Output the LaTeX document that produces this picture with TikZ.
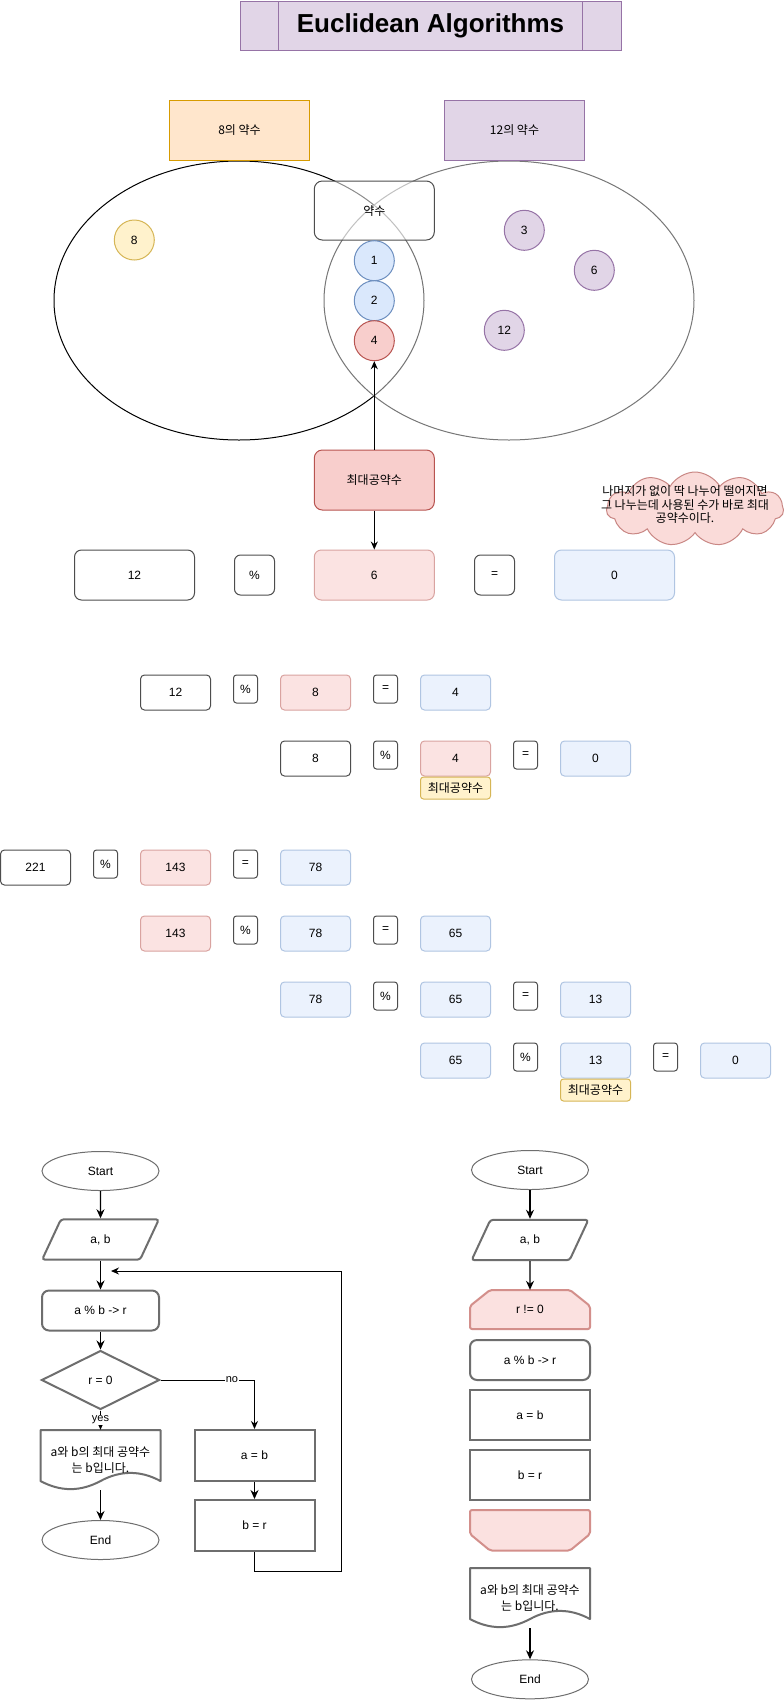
\documentclass[tikz,border=0pt]{standalone}
\usepackage{fontspec}
\setmainfont{Liberation Sans}
\newfontfamily\kr{Noto Sans CJK KR}
\usetikzlibrary{shapes.geometric,shapes.symbols,arrows.meta}
\definecolor{ttlfill}{HTML}{E1D5E7}
\definecolor{ttldraw}{HTML}{9673A6}
\definecolor{orfill}{HTML}{FFE6CC}
\definecolor{ordraw}{HTML}{D79B00}
\definecolor{yefill}{HTML}{FFF2CC}
\definecolor{yedraw}{HTML}{D6B656}
\definecolor{blfill}{HTML}{DAE8FC}
\definecolor{bldraw}{HTML}{6C8EBF}
\definecolor{refill}{HTML}{F8CECC}
\definecolor{redraw}{HTML}{B85450}
\definecolor{lrfill}{HTML}{FBE3E2}
\definecolor{lrdraw}{HTML}{D9A3A0}
\definecolor{lbfill}{HTML}{EBF2FD}
\definecolor{lbdraw}{HTML}{B0C5E2}
\definecolor{bxgray}{HTML}{4D4D4D}
\definecolor{flgray}{HTML}{6E6E6E}
\definecolor{vgray}{HTML}{777777}
\definecolor{lpfill}{HTML}{FBE1E0}
\definecolor{lpdraw}{HTML}{D38F8B}
\definecolor{cldfill}{HTML}{FADBD9}
\definecolor{clddraw}{HTML}{C98784}
\tikzset{
 txt/.style={font=\fontsize{12}{14}\selectfont, align=center, inner sep=0pt, text=black},
 krtxt/.style={font=\kr\fontsize{12}{14}\selectfont, align=center, inner sep=0pt, text=black},
 bigw/.style={txt, draw=bxgray, fill=white, rounded corners=7pt, line width=1pt, minimum width=120, minimum height=50},
 bigr/.style={bigw, draw=lrdraw, fill=lrfill},
 bigb/.style={bigw, draw=lbdraw, fill=lbfill},
 opbig/.style={txt, draw=bxgray, fill=white, rounded corners=6pt, line width=1pt, minimum width=40, minimum height=40},
 smw/.style={txt, draw=bxgray, fill=white, rounded corners=4pt, line width=1pt, minimum width=70, minimum height=35},
 smr/.style={smw, draw=lrdraw, fill=lrfill},
 smb/.style={smw, draw=lbdraw, fill=lbfill},
 opsm/.style={txt, draw=bxgray, fill=white, rounded corners=3pt, line width=1pt, minimum width=24, minimum height=28},
 gcdlbl/.style={krtxt, draw=yedraw, fill=yefill, rounded corners=3pt, line width=1pt, minimum width=70, minimum height=22, anchor=north},
 circ/.style={txt, circle, line width=1pt, minimum size=40},
 arr/.style={draw=black, line width=1pt, -{Stealth[length=8pt,width=7pt]}},
 farr/.style={draw=black, line width=1.1pt, -{Stealth[length=9pt,width=8pt]}},
 term/.style={txt, ellipse, draw=flgray, fill=white, line width=1pt, minimum width=117, minimum height=39},
 fl/.style={txt, draw=flgray, fill=white, line width=2pt},
 io/.style={fl, trapezium, trapezium left angle=65, trapezium right angle=115, rounded corners=3pt, minimum width=117, minimum height=39},
 proc/.style={fl, rounded corners=7pt, minimum width=117, minimum height=40},
 sq/.style={fl, minimum width=120, minimum height=51},
 dec/.style={fl, diamond, minimum width=118, minimum height=59},
 docline/.style={draw=flgray, fill=white, line width=2pt, line join=round},
 limline/.style={draw=lpdraw, fill=lpfill, line width=2pt, line join=round},
 lbl/.style={font=\fontsize{11}{12}\selectfont, fill=white, inner sep=1pt, text=black},
}
\begin{document}
\begin{tikzpicture}[x=1pt,y=-1pt]
\useasboundingbox (0,0) rectangle (784,1701);
\fill[white] (0,0) rectangle (784,1701);

% title
\node[txt, font=\fontsize{26}{30}\selectfont\bfseries, draw=ttldraw, fill=ttlfill, line width=1pt, minimum width=381, minimum height=49] (title) at (430.5,26) {Euclidean Algorithms};
\draw[ttldraw, line width=1pt] ([xshift=39pt]title.north west) -- ([xshift=39pt]title.south west);
\draw[ttldraw, line width=1pt] ([xshift=-39pt]title.north east) -- ([xshift=-39pt]title.south east);

% Venn
\node[ellipse, draw=black, line width=1pt, minimum width=370, minimum height=279, inner sep=0pt] (setA) at (239,300.5) {};
\node[ellipse, draw=vgray, fill=white, fill opacity=0.45, line width=1pt, minimum width=370, minimum height=279, inner sep=0pt] (setB) at (509,300.5) {};
\node[krtxt, fill=orfill, draw=ordraw, line width=1pt, minimum width=140, minimum height=60] (labA) at (239.5,130) {8의 약수};
\node[krtxt, fill=ttlfill, draw=ttldraw, line width=1pt, minimum width=140, minimum height=60] (labB) at (514.5,130) {12의 약수};
\node[krtxt, draw=bxgray, fill=white, fill opacity=0.55, text opacity=1, rounded corners=8pt, line width=1pt, minimum width=120, minimum height=59] (common) at (374.3,210.5) {약수};
\node[circ, fill=blfill, draw=bldraw] (c1) at (374.3,260.7) {1};
\node[circ, fill=blfill, draw=bldraw] (c2) at (374.3,300.7) {2};
\node[circ, fill=refill, draw=redraw] (c4) at (374.3,340.7) {4};
\node[circ, fill=yefill, draw=yedraw] (c8) at (134.3,240) {8};
\node[circ, fill=ttlfill, draw=ttldraw] (c3) at (524.3,230.3) {3};
\node[circ, fill=ttlfill, draw=ttldraw] (c6) at (594.3,270.3) {6};
\node[circ, fill=ttlfill, draw=ttldraw] (c12) at (504.3,330.3) {12};

\node[krtxt, fill=refill, draw=redraw, rounded corners=8pt, line width=1pt, minimum width=120, minimum height=60] (gcd) at (374.3,480) {최대공약수};

% row 1
\node[bigw] (r1a) at (134.5,575) {12};
\node[opbig] (r1b) at (254.5,575) {\%};
\node[bigr] (r1c) at (374.3,575) {6};
\node[opbig] (r1d) at (494.5,575) {=};
\node[bigb] (r1e) at (614.5,575) {0};

\draw[arr] (gcd.north) -- (c4.south);
\draw[arr] (gcd.south) -- (r1c.north);

% cloud
\node[cloud, cloud puffs=11, cloud puff arc=120, aspect=2.4, minimum width=177, minimum height=74, inner sep=0pt, fill=cldfill, draw=clddraw, line width=1pt] (cloud) at (695,509) {};
\node[krtxt, font=\kr\fontsize{12}{13.5}\selectfont] (cloudtxt) at (685,505) {나머지가 없이 딱 나누어 떨어지면\\그 나누는데 사용된 수가 바로 최대\\공약수이다.};

% row 2 (top 675)
\node[smw] (r2a) at (175.5,692.5) {12};
\node[opsm] (r2b) at (245.5,689) {\%};
\node[smr] (r2c) at (315.5,692.5) {8};
\node[opsm] (r2d) at (385.5,689) {=};
\node[smb] (r2e) at (455.5,692.5) {4};
% row 3 (top 741)
\node[smw] (r3a) at (315.5,758.5) {8};
\node[opsm] (r3b) at (385.5,755) {\%};
\node[smr] (r3c) at (455.5,758.5) {4};
\node[opsm] (r3d) at (525.5,755) {=};
\node[smb] (r3e) at (595.5,758.5) {0};
\node[gcdlbl] (r3l) at (r3c.south) {최대공약수};
% row 4 (top 850)
\node[smw] (r4a) at (35.5,867.5) {221};
\node[opsm] (r4b) at (105.5,864) {\%};
\node[smr] (r4c) at (175.5,867.5) {143};
\node[opsm] (r4d) at (245.5,864) {=};
\node[smb] (r4e) at (315.5,867.5) {78};
% row 5 (top 916)
\node[smr] (r5a) at (175.5,933.5) {143};
\node[opsm] (r5b) at (245.5,930) {\%};
\node[smb] (r5c) at (315.5,933.5) {78};
\node[opsm] (r5d) at (385.5,930) {=};
\node[smb] (r5e) at (455.5,933.5) {65};
% row 6 (top 982)
\node[smb] (r6a) at (315.5,999.5) {78};
\node[opsm] (r6b) at (385.5,996) {\%};
\node[smb] (r6c) at (455.5,999.5) {65};
\node[opsm] (r6d) at (525.5,996) {=};
\node[smb] (r6e) at (595.5,999.5) {13};
% row 7 (top 1043)
\node[smb] (r7a) at (455.5,1060.5) {65};
\node[opsm] (r7b) at (525.5,1057) {\%};
\node[smb] (r7c) at (595.5,1060.5) {13};
\node[opsm] (r7d) at (665.5,1057) {=};
\node[smb] (r7e) at (735.5,1060.5) {0};
\node[gcdlbl] (r7l) at (r7c.south) {최대공약수};

% left flowchart
\node[term] (ls) at (100.5,1171) {Start};
\node[io] (lin) at (100.5,1239.5) {a, b};
\node[proc] (lp) at (100.5,1310.5) {a \% b -> r};
\node[dec] (ld) at (100.5,1380) {r = 0};
\path[docline] (40.5,1430) -- (160.5,1430) -- (160.5,1481) .. controls (140.5,1470.2) and (120.5,1470.2) .. (100.5,1481) .. controls (80.5,1491.8) and (60.5,1491.8) .. (40.5,1481) -- cycle;
\node[krtxt, font=\kr\fontsize{12}{15.5}\selectfont, minimum width=120, minimum height=60] (ldoc) at (100.5,1460) {a와 b의 최대 공약수\\는 b입니다.};
\node[term] (le) at (100.5,1540) {End};
\node[sq] (lab) at (254.5,1455.5) {a = b};
\node[sq] (lbr) at (254.5,1525.5) {b = r};
\coordinate (lloop) at (111,1271);

\draw[farr] (ls) -- (lin);
\draw[farr] (lin) -- (lp);
\draw[farr] (lp) -- (ld);
\draw[arr] (ld.south) -- node[lbl]{yes} (ldoc.north);
\draw[arr] (ld.east) -| node[lbl, pos=0.38]{no} (lab.north);
\draw[farr] (ldoc.south) -- (le.north);
\draw[farr] (lab) -- (lbr);
\draw[arr] (lbr.south) -- ++(0,19) -| (341,1271) -- (lloop);

% right flowchart
\node[term] (rs) at (530,1170) {Start};
\node[io] (rin) at (530,1240) {a, b};
\path[limline, rounded corners=2pt] (470,1329) -- (470,1306) -- (490,1290) -- (570,1290) -- (590,1306) -- (590,1329) -- cycle;
\node[txt, minimum width=120, minimum height=39] (rlim) at (530,1309.5) {r != 0};
\node[proc, minimum width=120] (rp) at (530,1360) {a \% b -> r};
\node[sq, minimum height=50] (rab) at (530,1415) {a = b};
\node[sq, minimum height=50] (rbr) at (530,1475) {b = r};
\path[limline, rounded corners=2pt] (470,1510) -- (590,1510) -- (590,1534) -- (570,1550.5) -- (490,1550.5) -- (470,1534) -- cycle;
\node[minimum width=120, minimum height=41, inner sep=0pt] (rlim2) at (530,1530) {};
\path[docline] (470,1568) -- (590,1568) -- (590,1619) .. controls (570,1608.2) and (550,1608.2) .. (530,1619) .. controls (510,1629.8) and (490,1629.8) .. (470,1619) -- cycle;
\node[krtxt, font=\kr\fontsize{12}{15.5}\selectfont, minimum width=120, minimum height=60] (rdoc) at (530,1598) {a와 b의 최대 공약수\\는 b입니다.};
\node[term] (re) at (530,1679.3) {End};

\draw[farr] (rs) -- (rin);
\draw[farr] (rin.south) -- (rlim.north);
\draw[farr] (rdoc.south) -- (re.north);
\end{tikzpicture}
\end{document}
